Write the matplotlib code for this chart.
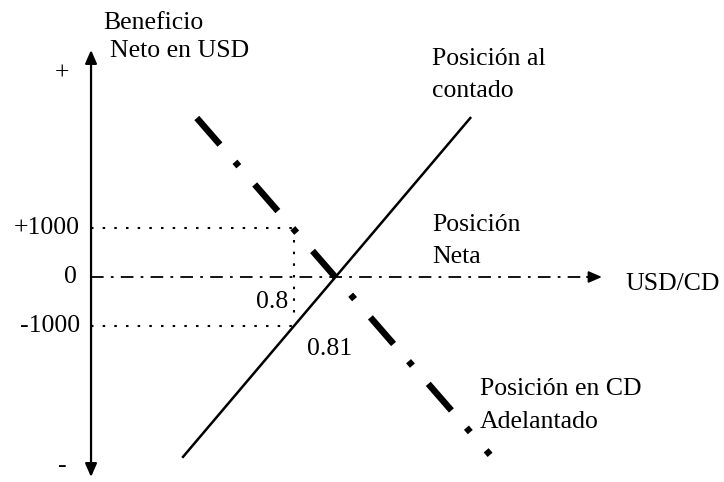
import matplotlib.pyplot as plt

plt.rcParams['font.family'] = ['Liberation Serif', 'DejaVu Serif']

# data (exchange rate USD/CD on x, net profit in USD on y)
spot_x = [0.7742, 0.8410]        # Posicion al contado
spot_y = [-3670, 3245]
fwd_x = [0.7774, 0.8456]         # Posicion en CD Adelantado
fwd_y = [3245, -3630]
rate_levels = [0.8, 0.81]
rate_labels = ['0.8', '0.81']
profit_levels = [1000, 0, -1000]
profit_labels = ['+1000', '0', '-1000']

W, H = 724, 482
FS = 18.5


def at(x, y):
    # pixel position (from top left) -> figure fraction
    return x / W, 1 - y / H


fig = plt.figure(figsize=(W / 100, H / 100), dpi=100)
ax = fig.add_axes([0, 0, 1, 1])
ax.set_xlim(0.73163, 0.9)
ax.set_ylim(-4184, 5653)
ax.axis('off')

axis_x = 0.7528
arrow_end = 0.8716

# vertical axis with arrows at both ends
ax.annotate('', xy=(axis_x, 4633), xytext=(axis_x, -4082),
            arrowprops=dict(arrowstyle='<|-|>,head_length=0.8,head_width=0.35',
                            mutation_scale=10, lw=1.6, color='k',
                            shrinkA=0, shrinkB=0))

# horizontal axis, dash-dot, with arrow head
ax.plot([axis_x, arrow_end - 0.003], [0, 0], color='k', lw=1.3,
        ls=(0, (7, 4, 1.5, 4)))
ax.annotate('', xy=(arrow_end, 0), xytext=(arrow_end - 0.0035, 0),
            arrowprops=dict(arrowstyle='-|>,head_length=0.8,head_width=0.35',
                            mutation_scale=10, lw=1.3, color='k',
                            shrinkA=0, shrinkB=0))

# dotted guides
dot = (0, (1.2, 4.4))
ax.plot([axis_x, rate_levels[0]], [profit_levels[0]] * 2, color='k', lw=1.5, ls=dot)
ax.plot([axis_x, rate_levels[0]], [profit_levels[2]] * 2, color='k', lw=1.5, ls=dot)
ax.plot([rate_levels[0]] * 2, [profit_levels[0] - 250, profit_levels[2] + 150],
        color='k', lw=1.5, ls=dot)

# positions
ax.plot(spot_x, spot_y, color='k', lw=1.8)
ax.plot(fwd_x, fwd_y, color='k', lw=4.7, ls=(0, (5.4, 3.5, 0.9, 3.7)),
        dash_capstyle='butt')

# tick labels on the profit axis
ytr = ax.get_yaxis_transform()
for lev, lab in zip(profit_levels, profit_labels):
    if lab == '0':
        ax.text(70 / W, lev, lab, transform=ytr, ha='center', va='center', fontsize=FS)
    else:
        ax.text(80 / W, lev, lab, transform=ytr, ha='right', va='center', fontsize=FS)

ax.annotate(rate_labels[0], xy=(rate_levels[0], 0), xytext=(-6, -31),
            textcoords='offset pixels', ha='right', va='baseline', fontsize=FS)
ax.annotate(rate_labels[1], xy=(rate_levels[1], 0), xytext=(-30, -78),
            textcoords='offset pixels', ha='left', va='baseline', fontsize=FS)

# labels
fig.text(*at(62, 74), '+', ha='center', va='center', fontsize=FS)
fig.text(*at(62, 466), '-', ha='center', va='center', fontsize=FS)
fig.text(*at(103, 29), 'Beneficio', va='baseline', fontsize=FS)
fig.text(*at(110, 57), 'Neto en USD', va='baseline', fontsize=FS)
fig.text(*at(432, 65), 'Posición al', va='baseline', fontsize=FS)
fig.text(*at(432, 97), 'contado', va='baseline', fontsize=FS)
fig.text(*at(432, 231), 'Posición', va='baseline', fontsize=FS)
fig.text(*at(432, 263), 'Neta', va='baseline', fontsize=FS)
fig.text(*at(625, 290), 'USD/CD', va='baseline', fontsize=FS)
fig.text(*at(480, 395), 'Posición en CD', va='baseline', fontsize=FS)
fig.text(*at(480, 428), 'Adelantado', va='baseline', fontsize=FS)

fig.savefig('out.png', dpi=100)
